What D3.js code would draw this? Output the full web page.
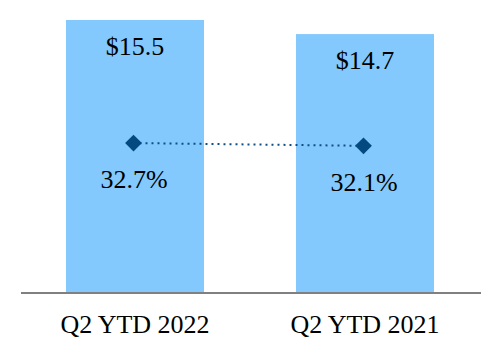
<!DOCTYPE html>
<html><head><meta charset="utf-8">
<script src="https://cdn.jsdelivr.net/npm/d3@7"></script>
<style>html,body{margin:0;padding:0;background:#fff;}svg{display:block;}</style>
</head><body>
<svg id="chart" width="500" height="360"></svg>
<script>
const categories = ["Q2 YTD 2022", "Q2 YTD 2021"];
const revenue = [15.5, 14.7];
const revenueLabels = ["$15.5", "$14.7"];
const margin = [32.7, 32.1];
const marginLabels = ["32.7%", "32.1%"];

const svg = d3.select("#chart");
const font = "'Liberation Serif','Times New Roman',serif";
const baseY = 293;

const x = d3.scaleBand().domain(categories).range([20, 480]).paddingInner(0.4).paddingOuter(0.2);
const y = d3.scaleLinear().domain([0, 15.5]).range([baseY, 20]);
const y2 = d3.scaleLinear().domain([0, 63.9]).range([baseY, 0]);

svg.selectAll("rect.bar").data(revenue).join("rect")
  .attr("class", "bar")
  .attr("x", (d, i) => x(categories[i]))
  .attr("y", d => y(d))
  .attr("width", x.bandwidth())
  .attr("height", d => baseY - y(d))
  .attr("fill", "#83c9fd");

svg.selectAll("text.val").data(revenue).join("text")
  .attr("class", "val")
  .attr("x", (d, i) => x(categories[i]) + x.bandwidth() / 2)
  .attr("y", d => y(d) + 35)
  .attr("text-anchor", "middle")
  .attr("font-family", font).attr("font-size", 26).attr("fill", "#000")
  .text((d, i) => revenueLabels[i]);

const cx = (d, i) => x(categories[i]) + x.bandwidth() / 2 - 1.5;
const line = d3.line().x((d, i) => cx(d, i)).y(d => y2(d));
svg.append("path").datum(margin)
  .attr("d", line)
  .attr("fill", "none").attr("stroke", "#104f85").attr("stroke-width", 2)
  .attr("stroke-dasharray", "2,4");

svg.selectAll("path.dia").data(margin).join("path")
  .attr("class", "dia")
  .attr("d", d3.symbol().type(d3.symbolDiamond2).size(180))
  .attr("transform", (d, i) => `translate(${cx(d, i)},${y2(d)})`)
  .attr("fill", "#044a80");

svg.selectAll("text.pct").data(margin).join("text")
  .attr("class", "pct")
  .attr("x", (d, i) => cx(d, i) + 0.5)
  .attr("y", d => y2(d) + 45)
  .attr("text-anchor", "middle")
  .attr("font-family", font).attr("font-size", 26).attr("fill", "#000")
  .text((d, i) => marginLabels[i]);

const axis = d3.axisBottom(x).tickSize(0).tickPadding(14);
const g = svg.append("g").attr("transform", `translate(0,${baseY})`).call(axis);
g.select(".domain").attr("d", "M21,0H481").attr("stroke", "#808080").attr("stroke-width", 2);
g.selectAll("text").attr("font-family", font).attr("font-size", 26).attr("fill", "#000")
  .attr("dy", null).attr("y", 40);
</script>
</body></html>
